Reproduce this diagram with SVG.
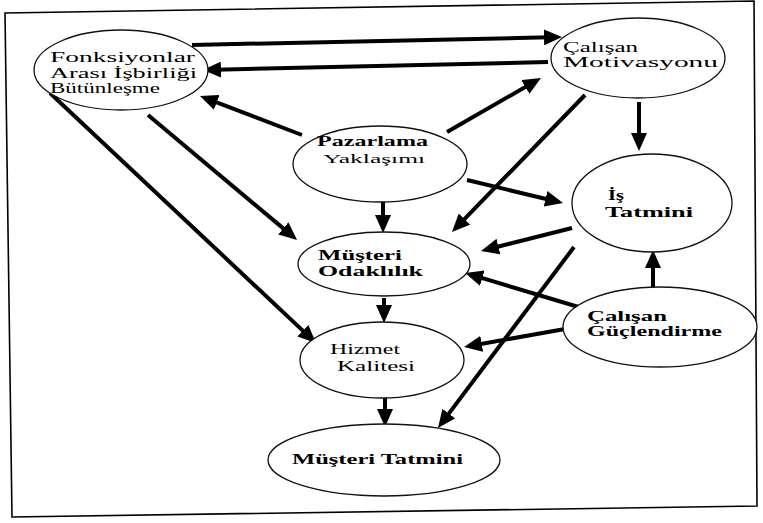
<svg xmlns="http://www.w3.org/2000/svg" width="763" height="523" viewBox="0 0 763 523">
<style>
.node ellipse{fill:#fff;stroke:#111;stroke-width:1.3}
text{font-family:"Liberation Serif","DejaVu Serif",serif;font-size:15px;fill:#000}
.b{font-weight:bold}
.s{font-size:12px}
.m{font-size:14px}
#connectors line{stroke:#000;stroke-width:4;marker-end:url(#ah)}
</style>
<defs>
<marker id="ah" markerUnits="userSpaceOnUse" markerWidth="18" markerHeight="16" viewBox="0 0 18 16" refX="5" refY="8" orient="auto">
<path d="M0,0 L18,8 L0,16 z" fill="#000"/>
</marker>
</defs>
<rect width="763" height="523" fill="#fff"/>
<polygon points="5,13 754,1 757,506 12,517" fill="none" stroke="#000" stroke-width="1.6"/>

<g id="connectors">
<line x1="192" y1="45" x2="549" y2="37.3"/>
<line x1="548" y1="62" x2="216" y2="69.7"/>
<line x1="302" y1="135" x2="212.1" y2="100.6"/>
<line x1="447" y1="132" x2="529.7" y2="84.5"/>
<line x1="148" y1="115" x2="287.1" y2="231.6"/>
<line x1="50" y1="93" x2="306.5" y2="334.1"/>
<line x1="383" y1="202" x2="383" y2="220"/>
<line x1="467" y1="180" x2="550.4" y2="200"/>
<line x1="585" y1="95" x2="461" y2="222.7"/>
<line x1="639" y1="102" x2="639" y2="138"/>
<line x1="572" y1="228" x2="493.6" y2="247.8"/>
<line x1="574" y1="247" x2="445.8" y2="417.6"/>
<line x1="653" y1="288" x2="653" y2="263"/>
<line x1="582" y1="308" x2="477.5" y2="276.7"/>
<line x1="565" y1="329" x2="476.8" y2="344.7"/>
<line x1="384" y1="298" x2="384" y2="310"/>
<line x1="385" y1="397" x2="385" y2="414"/>
</g>

<g id="fonksiyonlar" class="node">
<ellipse cx="121" cy="70" rx="87" ry="40" fill="none"/>
<text x="50" y="62" textLength="145" lengthAdjust="spacingAndGlyphs">Fonksiyonlar</text>
<text x="50" y="78" textLength="147" lengthAdjust="spacingAndGlyphs">Arası İşbirliği</text>
<text x="50" y="93" textLength="110" lengthAdjust="spacingAndGlyphs">Bütünleşme</text>
</g>

<g id="calisan-motivasyonu" class="node">
<ellipse cx="638" cy="58" rx="87" ry="40" fill="none"/>
<text x="563" y="52" textLength="75" lengthAdjust="spacingAndGlyphs">Çalışan</text>
<text x="563" y="67" textLength="155" lengthAdjust="spacingAndGlyphs">Motivasyonu</text>
</g>

<g id="pazarlama" class="node">
<ellipse cx="380" cy="164" rx="87" ry="38" fill="none"/>
<text class="b" x="317" y="146" textLength="111" lengthAdjust="spacingAndGlyphs">Pazarlama</text>
<text class="s" x="323" y="163" textLength="102" lengthAdjust="spacingAndGlyphs">Yaklaşımı</text>
</g>

<g id="musteri-odaklilik" class="node">
<ellipse cx="384" cy="264" rx="86" ry="32" fill="none"/>
<text class="b" x="318" y="260" textLength="84" lengthAdjust="spacingAndGlyphs">Müşteri</text>
<text class="b" x="318" y="276" textLength="105" lengthAdjust="spacingAndGlyphs">Odaklılık</text>
</g>

<g id="hizmet-kalitesi" class="node">
<ellipse cx="382" cy="360" rx="82" ry="38" fill="none"/>
<text x="330" y="354" textLength="70" lengthAdjust="spacingAndGlyphs">Hizmet</text>
<text x="337" y="371" textLength="78" lengthAdjust="spacingAndGlyphs">Kalitesi</text>
</g>

<g id="musteri-tatmini" class="node">
<ellipse cx="384" cy="460" rx="116" ry="36" fill="none"/>
<text class="b" x="292" y="464" textLength="171" lengthAdjust="spacingAndGlyphs">Müşteri Tatmini</text>
</g>

<g id="is-tatmini" class="node">
<ellipse cx="652" cy="203" rx="80" ry="49" fill="none"/>
<text class="b m" x="608" y="200" textLength="16" lengthAdjust="spacingAndGlyphs">İş</text>
<text class="b m" x="605" y="217" textLength="88" lengthAdjust="spacingAndGlyphs">Tatmini</text>
</g>

<g id="calisan-guclendirme" class="node">
<ellipse cx="660" cy="327" rx="97" ry="40" fill="none"/>
<text class="b" x="587" y="321" textLength="80" lengthAdjust="spacingAndGlyphs">Çalışan</text>
<text class="b" x="587" y="336" textLength="135" lengthAdjust="spacingAndGlyphs">Güçlendirme</text>
</g>
</svg>
